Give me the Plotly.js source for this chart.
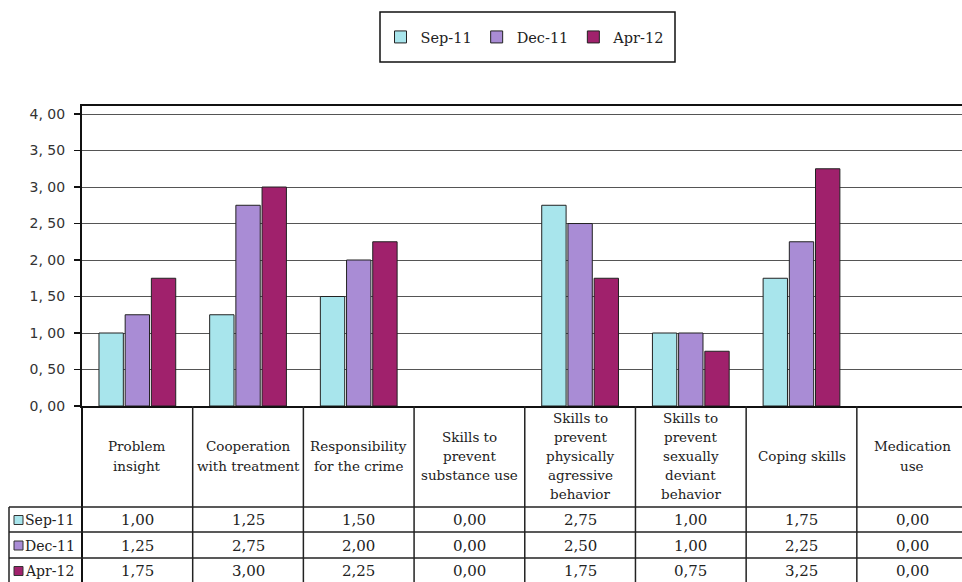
<!DOCTYPE html>
<html>
<head>
<meta charset="utf-8">
<script src="https://cdn.plot.ly/plotly-3.0.1.min.js"></script>
<style>html,body{margin:0;padding:0;background:#fff;}#chart{width:962px;height:582px;}</style>
</head>
<body>
<div id="chart"></div>
<script>
// ---- data ----
const categories = [
  "Problem<br>insight",
  "Cooperation<br>with treatment",
  "Responsibility<br>for the crime",
  "Skills to<br>prevent<br>substance use",
  "Skills to<br>prevent<br>physically<br>agressive<br>behavior",
  "Skills to<br>prevent<br>sexually<br>deviant<br>behavior",
  "Coping skills",
  "Medication<br>use"
];
const seriesNames = ["Sep-11", "Dec-11", "Apr-12"];
const sep11 = [1.00, 1.25, 1.50, 0.00, 2.75, 1.00, 1.75, 0.00];
const dec11 = [1.25, 2.75, 2.00, 0.00, 2.50, 1.00, 2.25, 0.00];
const apr12 = [1.75, 3.00, 2.25, 0.00, 1.75, 0.75, 3.25, 0.00];
const yTickVals = [0, 0.5, 1, 1.5, 2, 2.5, 3, 3.5, 4];
const yTickText = ["0, 00", "0, 50", "1, 00", "1, 50", "2, 00", "2, 50", "3, 00", "3, 50", "4, 00"];
const seriesColors = ["#A8E5EC", "#A98CD5", "#A0216C"];

// ---- layout helpers (pixel -> paper) ----
const W = 962, H = 582;
const px = x => x / W;
const py = y => (H - y) / H;
const plotLeft = 82, plotTop = 106, plotBottom = 406;
const headerCenter = 456, linePitch = 19;
const rowLines = [507, 532, 558];
const rowCenters = [520, 545.5, 571];
const SERIF = 'DejaVu Serif';

const series = [sep11, dec11, apr12];
const xIdx = categories.map((c, i) => i);
const fmt = v => v.toFixed(2).replace('.', ',');

const traces = series.map((vals, s) => ({
  type: 'bar',
  name: seriesNames[s],
  x: xIdx,
  y: vals,
  marker: {color: seriesColors[s], line: {color: '#222', width: vals.map(v => v > 0 ? 1 : 0)}},
  hoverinfo: 'x+y'
}));

const shapes = [];
const annotations = [];

// legend frame
shapes.push({type: 'rect', xref: 'paper', yref: 'paper',
  x0: px(380), x1: px(675), y0: py(62), y1: py(12),
  line: {color: '#111', width: 1.5}, fillcolor: 'rgba(0,0,0,0)', layer: 'below'});

// table grid
for (let i = 1; i < categories.length; i++) {
  shapes.push({type: 'line', xref: 'x', yref: 'paper', x0: i - 0.5, x1: i - 0.5,
    y0: py(H + 2), y1: py(plotBottom), line: {color: '#222', width: 1.5}});
}
shapes.push({type: 'line', xref: 'paper', yref: 'paper', x0: px(plotLeft), x1: px(plotLeft),
  y0: py(H + 2), y1: py(plotBottom), line: {color: '#111', width: 2}});
shapes.push({type: 'line', xref: 'paper', yref: 'paper', x0: px(9), x1: px(9),
  y0: py(H + 2), y1: py(rowLines[0]), line: {color: '#222', width: 1.5}});
rowLines.forEach(y => {
  shapes.push({type: 'line', xref: 'paper', yref: 'paper', x0: px(9), x1: 1,
    y0: py(y), y1: py(y), line: {color: '#222', width: 1.5}});
});

// header labels (one annotation per line)
categories.forEach((c, i) => {
  const lines = c.split('<br>');
  lines.forEach((t, k) => {
    const yc = headerCenter + (k - (lines.length - 1) / 2) * linePitch;
    annotations.push({xref: 'x', yref: 'paper', x: i, y: py(yc), text: t, showarrow: false,
      xanchor: 'center', yanchor: 'middle',
      font: {family: SERIF, size: 13.5, color: '#222'}});
  });
});

// data cells and row labels
series.forEach((vals, s) => {
  vals.forEach((v, i) => {
    annotations.push({xref: 'x', yref: 'paper', x: i, y: py(rowCenters[s]), text: fmt(v), showarrow: false,
      xanchor: 'center', yanchor: 'middle',
      font: {family: SERIF, size: 15, color: '#222'}});
  });
  shapes.push({type: 'rect', xref: 'paper', yref: 'paper',
    x0: px(14), x1: px(23), y0: py(rowCenters[s] + 4.5), y1: py(rowCenters[s] - 4.5),
    fillcolor: seriesColors[s], line: {color: '#333', width: 1}});
  annotations.push({xref: 'paper', yref: 'paper', x: px(23), y: py(rowCenters[s]), text: seriesNames[s], showarrow: false,
    xanchor: 'left', yanchor: 'middle',
    font: {family: SERIF, size: 14, color: '#222'}});
});

const layout = {
  width: W, height: H,
  margin: {l: 0, r: 0, t: 0, b: 0},
  paper_bgcolor: '#fff', plot_bgcolor: '#fff',
  separators: ',.',
  barmode: 'group', bargap: 0.29, bargroupgap: 0.07,
  showlegend: true,
  legend: {orientation: 'h', x: px(525), xanchor: 'center', y: py(37), yanchor: 'middle',
    font: {family: SERIF, size: 14.5, color: '#222'}, itemwidth: 30,
    bgcolor: 'rgba(0,0,0,0)', borderwidth: 0, traceorder: 'normal'},
  xaxis: {domain: [px(plotLeft), 1], range: [-0.5, 7.45], showticklabels: false, ticks: '',
    showgrid: false, zeroline: false, showline: true, mirror: true, linecolor: '#111', linewidth: 2,
    fixedrange: true},
  yaxis: {domain: [py(plotBottom), py(plotTop)], range: [0, 4.11], tickvals: yTickVals, ticktext: yTickText,
    ticks: 'outside', ticklen: 6, tickwidth: 1.5, tickcolor: '#111', ticklabelstandoff: 6,
    tickfont: {family: 'DejaVu Sans', size: 14, color: '#333'},
    showgrid: true, gridcolor: '#555', gridwidth: 1, zeroline: false,
    showline: true, linecolor: '#111', linewidth: 2, fixedrange: true},
  shapes: shapes,
  annotations: annotations
};

Plotly.newPlot('chart', traces, layout, {displayModeBar: false, staticPlot: true});
</script>
</body>
</html>
